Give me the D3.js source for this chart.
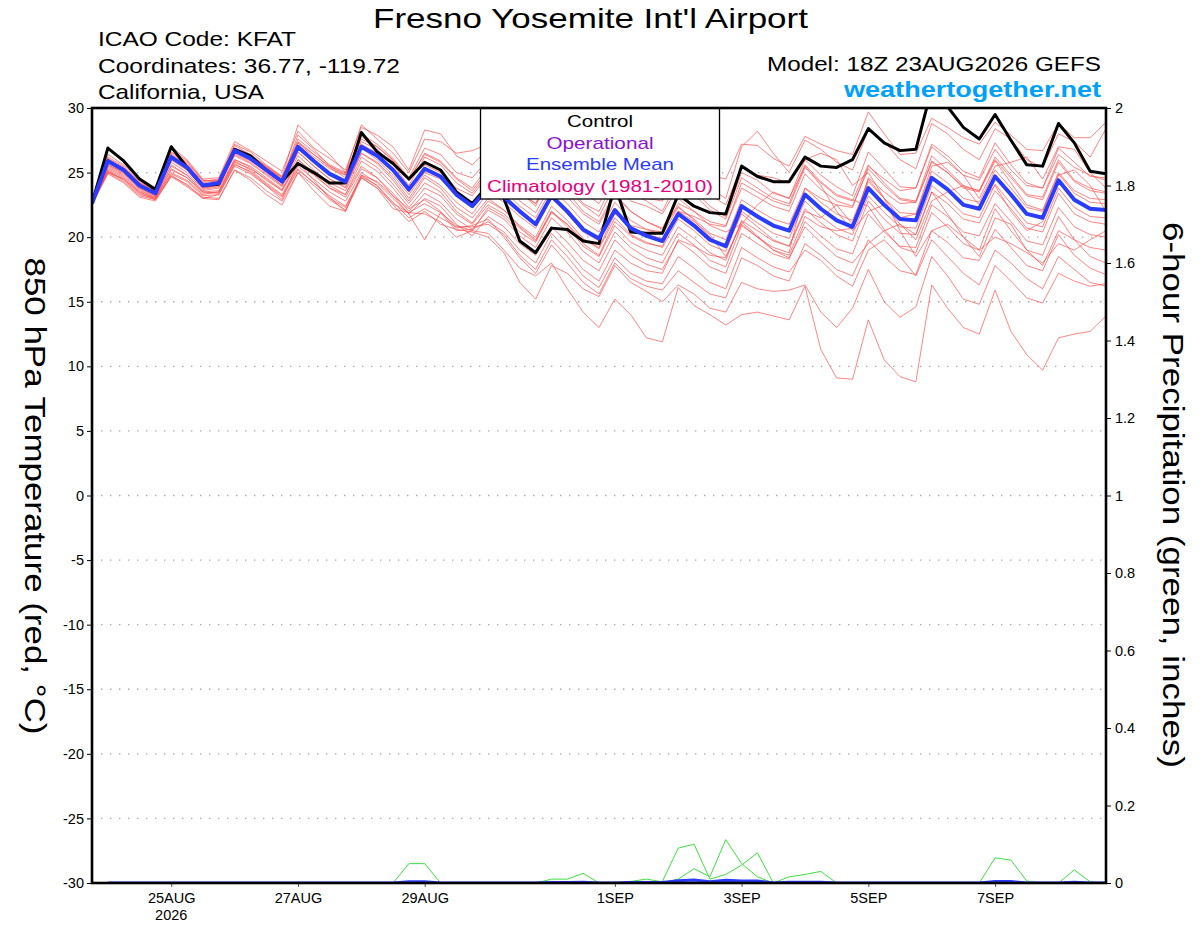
<!DOCTYPE html>
<html>
<head>
<meta charset="utf-8">
<script src="https://cdn.jsdelivr.net/npm/d3@7"></script>
<style>
  body { margin: 0; background: #fff; }
  svg { display: block; font-family: "Liberation Sans", Arial, Helvetica, sans-serif; }
</style>
</head>
<body>
<script>
// GEFS 850 hPa temperature plume, 6-hourly from 18Z 23AUG2026
var startUTC = Date.UTC(2026, 7, 23, 18),
    stepHours = 6;

var control = [22.6,26.9,25.9,24.5,23.7,27.0,25.4,24.0,24.1,26.8, 26.3,25.2,24.3,25.7,25.0,24.2,24.2,28.1,26.6,25.7,
  24.5,25.8,25.2,23.5,22.6,24.0,23.0,19.7,18.8,20.7, 20.6,19.7,19.5,24.0,20.4,20.3,20.3,23.3,22.4,21.9,
  21.8,25.5,24.7,24.3,24.3,26.2,25.5,25.4,26.0,28.4, 27.3,26.7,26.8,31.5,30.1,28.5,27.6,29.5,27.5,25.6,
  25.5,28.8,27.3,25.1,24.9];

var ensMean = [22.6,25.9,25.2,24.0,23.4,26.2,25.4,24.0,24.2,26.7, 26.1,25.2,24.3,27.0,25.9,24.9,24.3,27.0,26.3,25.2,
  23.7,25.3,24.7,23.3,22.4,23.8,23.1,22.0,21.0,23.2, 22.0,20.6,19.9,22.1,20.7,20.1,19.7,21.8,20.9,19.8,
  19.3,22.4,21.6,20.9,20.5,23.3,22.2,21.3,20.8,23.8, 22.5,21.4,21.3,24.6,23.7,22.5,22.2,24.7,23.3,21.8,
  21.5,24.4,22.9,22.2,22.1];

var m01 = [22.8,26.4,25.6,24.3,23.6,27.0,26.0,24.5,24.6,27.4, 26.7,25.9,25.1,28.2,26.9,26.1,25.2,28.5,27.9,27.0,
  25.2,28.3,28.0,26.3,25.6,26.8,26.6,25.8,25.0,26.7, 25.8,24.6,24.1,25.6,24.7,24.6,24.5,25.8,25.3,24.8,
  24.5,27.2,27.1,26.1,25.5,27.8,27.2,26.7,26.4,29.7, 28.0,26.4,26.5,29.2,28.5,27.7,27.2,28.9,27.9,26.8,
  26.7,28.8,27.7,27.7,28.9];
var m02 = [22.7,26.2,25.5,24.2,23.5,26.8,25.9,24.4,24.4,27.2, 26.6,25.6,24.7,28.7,27.5,26.4,25.0,28.7,27.6,26.5,
  25.0,27.6,27.4,26.5,26.7,27.2,26.0,24.5,23.4,26.2, 25.0,23.4,23.0,25.8,24.0,23.5,22.9,26.5,25.0,23.8,
  23.0,27.0,28.2,26.5,25.0,27.5,26.8,25.8,25.2,28.3, 27.4,26.0,25.3,28.8,28.0,26.8,26.0,28.4,27.6,26.0,
  25.4,28.0,27.4,26.2,28.4];
var m03 = [22.6,26.1,25.4,24.1,23.3,26.5,25.7,24.3,24.5,27.1, 26.4,25.4,24.5,27.9,26.8,25.5,24.8,28.0,27.2,26.1,
  24.6,26.9,26.4,25.0,24.6,26.0,25.5,24.3,23.7,25.5, 24.6,23.5,22.6,24.8,23.6,23.0,22.8,25.0,24.5,23.3,
  22.5,25.4,24.8,24.6,24.2,26.0,26.5,26.0,24.0,25.0, 23.0,21.5,21.8,25.5,25.8,24.8,23.0,25.5,25.8,26.2,
  24.5,27.0,26.8,25.0,23.8];
var m04 = [22.7,25.8,25.3,24.2,23.6,26.6,25.8,24.4,24.3,26.9, 26.4,25.5,24.6,27.6,26.6,25.6,25.0,27.8,27.0,25.9,
  24.4,26.5,25.9,24.6,23.8,25.5,24.9,23.5,22.4,25.0, 24.1,22.6,22.0,24.5,23.4,22.8,22.0,24.5,23.6,22.4,
  21.6,25.0,24.4,23.4,23.0,26.0,24.8,23.9,23.2,26.6, 25.3,23.9,23.8,27.2,26.3,25.1,24.6,27.3,25.6,24.2,
  23.8,26.9,25.8,24.7,24.6];
var m05 = [22.5,25.6,25.0,23.8,23.2,26.0,25.2,23.8,24.0,26.5, 25.9,25.1,24.4,27.3,26.4,25.4,24.6,27.4,26.8,25.6,
  24.0,26.2,25.6,24.2,23.4,25.0,24.6,23.4,22.6,24.8, 23.7,22.5,21.6,24.0,22.8,22.4,21.8,23.9,23.3,22.1,
  21.4,24.6,23.8,23.0,22.6,25.6,24.3,23.3,22.9,22.4, 20.6,19.2,18.8,21.9,20.8,19.5,19.0,22.2,20.5,19.0,
  18.6,21.6,19.8,19.2,19.0];
var m06 = [22.8,26.0,25.3,24.0,23.4,26.4,25.6,24.1,24.0,26.6, 26.0,25.0,24.0,26.6,25.5,24.5,23.8,26.5,25.7,24.4,
  22.8,24.6,23.8,22.3,21.5,23.0,22.1,20.8,19.8,22.0, 21.0,19.5,18.6,21.2,20.1,19.5,19.3,22.0,21.6,21.0,
  20.8,24.2,23.5,22.8,22.4,25.4,24.2,23.2,22.8,25.6, 24.2,23.0,22.8,26.3,25.2,24.0,23.6,26.2,24.8,23.3,
  23.1,26.0,24.4,23.8,23.5];
var m07 = [22.6,25.7,25.1,24.0,23.5,26.3,25.5,24.2,24.4,26.9, 26.3,25.5,24.7,27.3,26.2,25.3,24.8,27.2,26.5,25.2,
  23.5,25.6,25.0,23.8,23.2,24.8,24.0,22.8,21.9,24.1, 23.1,21.8,21.0,23.2,22.0,21.2,20.7,23.0,22.0,20.9,
  20.4,21.0,22.5,23.5,23.0,25.5,24.0,22.0,20.5,22.0, 22.5,21.0,19.8,22.8,23.5,24.0,22.5,24.0,22.0,20.5,
  21.2,24.8,25.2,24.0,22.0];
var m08 = [22.5,25.4,24.8,23.7,23.1,25.6,24.8,23.5,23.6,26.0, 25.4,24.4,23.6,26.0,24.9,23.8,23.3,25.5,24.6,23.2,
  21.8,19.8,21.9,20.9,20.5,22.3,21.6,20.4,19.6,21.9, 21.0,19.8,19.2,21.8,20.9,20.6,20.4,22.6,22.0,21.2,
  20.9,23.8,23.1,22.4,22.0,24.9,23.7,22.8,22.4,25.3, 24.0,22.9,22.7,25.9,25.0,23.9,23.6,26.0,24.6,23.2,
  22.9,25.8,24.3,23.6,23.4];
var m09 = [22.7,26.0,25.3,24.1,23.5,26.2,25.3,23.9,24.1,26.7, 26.0,25.1,24.2,26.8,25.8,24.9,24.4,26.9,26.0,24.8,
  23.3,25.0,24.5,23.2,22.5,24.3,23.6,22.4,21.5,23.7, 22.6,21.2,20.4,22.7,21.3,20.6,20.2,22.3,21.4,20.3,
  19.8,22.9,22.1,21.4,21.0,23.8,22.7,21.8,21.3,24.3, 23.0,21.9,21.8,25.1,24.2,23.0,22.7,25.2,23.8,22.3,
  22.0,24.9,23.4,22.7,22.6];
var m10 = [22.6,25.9,25.2,24.0,23.4,26.1,25.4,24.0,24.3,26.8, 26.2,25.4,24.6,27.4,26.4,25.5,24.9,27.6,27.0,26.0,
  24.5,26.4,25.8,24.5,23.6,25.2,24.6,23.5,22.6,24.8, 23.5,22.0,21.2,23.4,22.0,21.2,20.6,22.4,21.3,20.0,
  19.2,21.8,20.8,19.8,19.3,22.0,21.5,22.5,21.0,24.5, 23.0,20.5,18.5,20.5,21.0,20.0,18.5,21.5,21.0,19.0,
  17.8,20.5,19.8,18.5,18.0];
var m11 = [22.5,25.8,25.1,23.9,23.3,26.0,25.2,23.8,24.0,26.4, 25.8,24.9,24.0,26.6,25.5,24.5,23.9,26.5,25.8,24.6,
  23.0,24.8,24.0,22.7,21.8,23.5,22.7,21.6,20.7,23.0, 21.8,20.4,19.7,22.0,20.7,20.2,19.9,22.0,21.2,20.2,
  18.5,21.0,20.0,19.0,18.6,21.6,20.8,20.5,20.7,24.6, 23.5,22.6,22.7,25.8,25.0,23.8,23.5,25.9,24.2,22.5,
  22.1,25.0,23.6,23.0,22.9];
var m12 = [22.6,25.6,25.0,23.9,23.4,25.8,25.0,23.7,23.9,26.3, 25.7,24.8,23.9,26.3,25.2,24.2,23.6,26.2,25.4,24.1,
  22.6,24.2,23.5,22.0,21.1,22.8,22.1,20.9,20.0,22.4, 21.3,19.9,19.1,21.5,20.2,19.6,19.2,21.4,20.5,19.4,
  18.9,22.0,21.1,20.3,19.9,22.8,21.6,20.7,20.2,23.2, 21.9,20.8,20.7,24.0,23.0,21.8,21.5,24.1,22.6,21.1,
  20.8,23.8,22.3,21.6,21.5];
var m13 = [22.7,25.5,24.9,23.8,23.2,25.5,24.8,23.6,23.8,26.0, 25.5,24.6,23.7,26.0,25.0,24.0,23.3,25.9,25.1,23.8,
  22.3,23.8,23.2,21.8,21.0,22.5,21.8,20.7,19.7,22.0, 20.8,19.3,18.5,20.9,19.6,19.0,18.6,20.8,19.9,18.8,
  18.2,21.3,20.5,19.7,19.3,22.2,21.1,20.2,19.7,22.8, 21.4,20.3,20.2,23.5,22.6,21.4,21.1,23.6,22.2,20.7,
  20.4,23.4,21.8,21.2,21.0];
var m14 = [22.6,25.3,24.7,23.6,23.1,25.2,24.6,23.4,23.5,25.8, 25.3,24.5,23.6,25.7,24.8,23.8,23.1,25.3,24.6,23.4,
  22.0,23.4,22.7,21.4,20.6,22.1,21.4,20.1,19.2,21.5, 20.4,18.9,18.0,20.4,19.2,18.4,18.0,20.3,19.4,18.2,
  17.7,20.9,20.0,19.2,18.8,23.8,23.0,22.5,22.3,25.5, 24.5,23.6,23.8,27.0,26.0,24.8,24.4,26.8,25.2,24.0,
  23.8,26.4,25.4,24.8,24.4];
var m15 = [22.5,25.2,24.6,23.5,23.0,25.0,24.4,23.3,23.5,25.9, 25.2,24.2,23.3,25.5,24.5,23.5,22.8,25.0,24.2,23.0,
  21.8,23.0,22.4,21.0,20.1,21.6,20.8,19.5,18.6,20.8, 19.6,18.2,17.4,19.8,18.6,17.9,17.5,19.7,18.8,17.7,
  17.2,20.3,19.5,18.7,18.3,21.2,20.1,19.1,18.7,21.8, 20.4,19.3,19.2,22.5,21.6,20.4,20.1,22.6,21.2,19.7,
  19.4,22.3,20.8,20.2,20.0];
var m16 = [22.7,25.1,24.5,23.5,23.0,24.9,24.3,23.2,23.3,25.5, 24.9,24.0,23.1,25.2,24.2,23.2,22.4,24.6,23.8,22.6,
  21.9,22.6,21.9,20.5,20.6,21.2,20.4,19.0,18.0,20.3, 19.0,17.5,16.6,19.0,18.0,17.4,17.2,19.8,19.3,18.6,
  18.4,21.2,20.1,19.0,18.4,20.8,19.6,18.5,18.0,19.5, 20.5,21.0,20.2,23.5,21.8,20.0,19.0,20.0,19.5,18.8,
  18.0,19.5,19.0,19.8,20.5];
var m17 = [22.6,25.0,24.5,23.4,22.9,24.7,24.1,23.0,23.3,25.6, 25.1,24.1,23.2,25.3,24.2,23.1,22.0,24.8,24.0,22.7,
  21.5,22.2,21.5,20.8,20.8,21.0,20.2,18.6,17.5,19.8, 18.5,17.0,16.1,18.4,17.2,16.6,16.4,18.5,17.6,16.5,
  16.0,19.2,18.4,17.7,17.3,19.0,18.2,17.0,16.2,19.0, 19.8,18.5,17.0,19.8,18.5,17.2,16.3,19.0,18.0,16.8,
  16.0,18.5,17.5,16.5,16.2];
var m18 = [22.6,25.1,24.4,23.3,23.0,25.3,24.6,23.5,23.4,25.7, 25.0,24.0,22.9,25.8,24.4,23.0,22.3,24.8,24.3,23.2,
  22.2,22.9,22.0,20.7,20.9,21.4,20.0,18.4,17.2,19.4, 18.0,16.5,15.6,18.0,16.8,16.2,15.9,17.4,16.5,15.6,
  15.3,18.4,17.8,17.0,16.6,19.5,18.6,17.5,17.0,19.8, 18.5,17.4,17.1,20.5,19.6,18.4,18.2,20.6,19.2,17.8,
  17.4,20.2,18.6,17.6,17.1];
var m19 = [22.6,25.0,24.3,23.2,22.9,24.8,24.0,23.1,23.0,25.2, 24.6,23.6,22.8,25.0,24.0,22.9,22.1,24.7,24.0,22.5,
  21.2,22.0,21.0,20.6,20.4,20.0,18.8,16.5,15.2,17.8, 17.2,16.0,15.4,17.8,16.5,15.8,15.0,16.3,15.6,14.5,
  14.2,16.5,16.0,15.8,15.9,16.3,14.2,13.0,14.5,17.5, 15.0,13.8,14.6,18.5,17.0,15.2,14.8,17.8,16.6,15.3,
  14.9,17.2,16.6,16.2,16.4];
var m20 = [22.5,24.9,24.2,23.1,22.8,24.7,23.9,23.0,22.9,25.2, 24.4,23.3,22.5,25.0,23.6,22.4,22.0,24.6,23.8,22.2,
  21.9,21.8,21.2,20.0,20.5,20.3,19.0,17.6,17.0,18.0, 16.0,14.2,13.0,15.2,14.0,12.2,11.9,16.1,14.7,14.0,
  13.2,14.0,14.2,13.9,13.6,16.2,11.3,9.1,9.0,13.6, 10.5,9.2,8.8,16.3,14.5,13.0,12.5,15.9,12.7,10.9,
  9.7,12.2,12.5,12.7,13.9];

var members = [m01, m02, m03, m04, m05, m06, m07, m08, m09, m10,
               m11, m12, m13, m14, m15, m16, m17, m18, m19, m20];

// 6-hour precipitation (inches), one value per period ending at steps 1..64
var precipA = [0,0,0,0,0,0,0,0,0,0, 0,0,0,0,0,0,0,0,0,0.05, 0.05,0,0,0,0,0,0,0,0,0,
  0,0,0,0,0,0,0,0,0,0, 0,0,0,0,0,0,0,0,0,0, 0,0,0,0,0,0,0,0,0,0, 0,0,0,0];
var precipB = [0,0,0,0,0,0,0,0,0,0, 0,0,0,0,0,0,0,0,0,0, 0,0,0,0,0,0,0,0,0.01,0.01,
  0.025,0,0,0,0,0,0,0,0,0, 0,0,0,0,0,0,0,0,0,0, 0,0,0,0,0,0,0,0,0,0, 0,0,0,0];
var precipC = [0,0,0,0,0,0,0,0,0,0, 0,0,0,0,0,0,0,0,0,0, 0,0,0,0,0,0,0,0,0,0,
  0,0,0,0,0,0.004,0.09,0.10,0.01,0.022, 0.046,0.078,0,0,0,0,0,0,0,0, 0,0,0,0,0,0,0,0,0,0, 0,0,0,0];
var precipD = [0,0,0,0,0,0,0,0,0,0, 0,0,0,0,0,0,0,0,0,0, 0,0,0,0,0,0,0,0,0,0,
  0,0,0,0,0,0,0.01,0.037,0.016,0.112, 0.05,0.016,0,0.016,0.022,0.030,0,0,0,0, 0,0,0,0,0,0,0,0,0,0, 0,0,0,0];
var precipE = [0,0,0,0,0,0,0,0,0,0, 0,0,0,0,0,0,0,0,0,0, 0,0,0,0,0,0,0,0,0,0,
  0,0,0,0,0,0,0,0,0,0, 0,0,0,0,0,0,0,0,0,0, 0,0,0,0,0,0,0.065,0.059,0.005,0, 0,0,0,0];
var precipF = [0,0,0,0,0,0,0,0,0,0, 0,0,0,0,0,0,0,0,0,0, 0,0,0,0,0,0,0,0,0,0,
  0,0,0,0.004,0.01,0.003,0,0,0,0, 0,0,0,0,0,0,0,0,0,0, 0,0,0,0,0,0,0,0,0,0, 0,0.034,0.003,0];
var precipMembers = [precipA, precipB, precipC, precipD, precipE, precipF];
var precipMean = [0,0,0,0,0,0,0,0,0,0, 0,0,0,0,0,0,0,0,0,0.003, 0.003,0,0,0,0,0,0,0,0.001,0.001,
  0.002,0,0,0.001,0.001,0.001,0.006,0.008,0.003,0.007, 0.005,0.005,0,0.002,0.002,0.002,0,0,0,0,
  0,0,0,0,0,0,0.004,0.004,0,0, 0,0.002,0,0];

var tempTicks = [-30,-25,-20,-15,-10,-5,0,5,10,15,20,25,30];
var gridTemps = [-25,-20,-15,-10,-5,0,5,10,15,20,25];
var precipTicks = [0,0.2,0.4,0.6,0.8,1,1.2,1.4,1.6,1.8,2];
var precipTickLabels = ["0","0.2","0.4","0.6","0.8","1","1.2","1.4","1.6","1.8","2"];
var dateTicks = ["2026-08-25","2026-08-27","2026-08-29","2026-09-01","2026-09-03","2026-09-05","2026-09-07"];
var dateTickLabels = ["25AUG","27AUG","29AUG","1SEP","3SEP","5SEP","7SEP"];

var legendItems = [
  {text: "Control", color: "#000000", len: 66},
  {text: "Operational", color: "#8c10d8", len: 107},
  {text: "Ensemble Mean", color: "#2a3cff", len: 148},
  {text: "Climatology (1981-2010)", color: "#e6007e", len: 226}
];

var W = 1200, H = 927;
var plot = {left: 92, right: 1106, top: 108, bottom: 883};

var times = control.map(function(d, i) { return new Date(startUTC + i * stepHours * 3600e3); });

var x = d3.scaleUtc()
    .domain([times[0], times[times.length - 1]])
    .range([plot.left, plot.right]);

var yT = d3.scaleLinear()
    .domain([-30, 30])
    .range([plot.bottom, plot.top]);

var yP = d3.scaleLinear()
    .domain([0, 2])
    .range([plot.bottom, plot.top]);

var svg = d3.select("body").append("svg")
    .attr("width", W)
    .attr("height", H);

svg.append("defs").append("clipPath").attr("id", "plotclip")
  .append("rect")
    .attr("x", plot.left).attr("y", plot.top)
    .attr("width", plot.right - plot.left).attr("height", plot.bottom - plot.top);

// dotted grid
svg.append("g").selectAll("line").data(gridTemps).enter().append("line")
    .attr("x1", plot.left).attr("x2", plot.right)
    .attr("y1", function(d) { return yT(d); }).attr("y2", function(d) { return yT(d); })
    .attr("stroke", "#a8a8a8")
    .attr("stroke-width", 1.4)
    .attr("stroke-dasharray", "1.4,7.6");

var lines = svg.append("g").attr("clip-path", "url(#plotclip)");

var tLine = d3.line()
    .x(function(d, i) { return x(times[i]); })
    .y(function(d) { return yT(d); });

var pLine = d3.line()
    .x(function(d, i) { return x(times[i + 1]); })
    .y(function(d) { return yP(d); });

lines.selectAll("path.member").data(members).enter().append("path")
    .attr("class", "member")
    .attr("d", tLine)
    .attr("fill", "none")
    .attr("stroke", "#ff4a4a")
    .attr("stroke-opacity", 0.85)
    .attr("stroke-width", 0.8);

lines.selectAll("path.pmember").data(precipMembers).enter().append("path")
    .attr("class", "pmember")
    .attr("d", pLine)
    .attr("fill", "none")
    .attr("stroke", "#3ee03e")
    .attr("stroke-width", 1);

lines.append("path")
    .attr("d", pLine(precipMean))
    .attr("fill", "none")
    .attr("stroke", "#2a3cff")
    .attr("stroke-width", 3);

lines.append("path")
    .attr("d", tLine(control))
    .attr("fill", "none")
    .attr("stroke", "#000")
    .attr("stroke-width", 3)
    .attr("stroke-linejoin", "round");

lines.append("path")
    .attr("d", tLine(ensMean))
    .attr("fill", "none")
    .attr("stroke", "#2a3cff")
    .attr("stroke-width", 4)
    .attr("stroke-linejoin", "round");

// legend box
var legend = svg.append("g");
legend.append("rect")
    .attr("x", 480.5).attr("y", plot.top)
    .attr("width", 239).attr("height", 91)
    .attr("fill", "#fff")
    .attr("stroke", "#000")
    .attr("stroke-width", 1.3);
legend.selectAll("text").data(legendItems).enter().append("text")
    .attr("x", 600)
    .attr("y", function(d, i) { return 127 + i * 21.6; })
    .attr("text-anchor", "middle")
    .attr("font-size", 17)
    .attr("textLength", function(d) { return d.len; })
    .attr("lengthAdjust", "spacingAndGlyphs")
    .attr("fill", function(d) { return d.color; })
    .text(function(d) { return d.text; });

// axes
var yAxis = d3.axisLeft(yT).tickValues(tempTicks).tickSize(5).tickPadding(3)
    .tickFormat(function(d) { return String(d); });
var gy = svg.append("g").attr("transform", "translate(" + plot.left + ",0)").call(yAxis);

var pAxis = d3.axisRight(yP).tickValues(precipTicks).tickSize(5).tickPadding(4)
    .tickFormat(function(d, i) { return precipTickLabels[i]; });
var gp = svg.append("g").attr("transform", "translate(" + plot.right + ",0)").call(pAxis);

var xAxis = d3.axisBottom(x)
    .tickValues(dateTicks.map(function(s) { return new Date(s + "T00:00:00Z"); }))
    .tickSize(4).tickPadding(6)
    .tickFormat(function(d, i) { return dateTickLabels[i]; });
var gx = svg.append("g").attr("transform", "translate(0," + plot.bottom + ")").call(xAxis);

[gy, gp, gx].forEach(function(g) {
  g.select(".domain").remove();
  g.selectAll("text").attr("font-size", 14.5).attr("fill", "#000")
    .attr("font-family", '"Liberation Sans", Arial, sans-serif');
  g.selectAll(".tick line").attr("stroke", "#000").attr("stroke-width", 1);
});
gx.selectAll(".tick line").attr("stroke", "#555");

gx.append("text")
    .attr("x", x(new Date(dateTicks[0] + "T00:00:00Z")))
    .attr("y", 37)
    .attr("text-anchor", "middle")
    .attr("font-size", 14.5)
    .attr("fill", "#000")
    .text("2026");

// frame
svg.append("rect")
    .attr("x", plot.left).attr("y", plot.top)
    .attr("width", plot.right - plot.left).attr("height", plot.bottom - plot.top)
    .attr("fill", "none")
    .attr("stroke", "#000")
    .attr("stroke-width", 2.6);

// axis titles
svg.append("text")
    .attr("transform", "translate(35,496) rotate(90)")
    .attr("text-anchor", "middle")
    .attr("dominant-baseline", "central")
    .attr("font-size", 30)
    .attr("textLength", 477)
    .attr("lengthAdjust", "spacingAndGlyphs")
    .text("850 hPa Temperature (red, \u00B0C)");

svg.append("text")
    .attr("transform", "translate(1173,495) rotate(90)")
    .attr("text-anchor", "middle")
    .attr("dominant-baseline", "central")
    .attr("font-size", 29)
    .attr("textLength", 546)
    .attr("lengthAdjust", "spacingAndGlyphs")
    .text("6-hour Precipitation (green, inches)");

// header
svg.append("text")
    .attr("x", 590.5).attr("y", 28)
    .attr("text-anchor", "middle")
    .attr("font-size", 28)
    .attr("textLength", 435)
    .attr("lengthAdjust", "spacingAndGlyphs")
    .text("Fresno Yosemite Int'l Airport");

var info = [
  {text: "ICAO Code: KFAT", len: 198},
  {text: "Coordinates: 36.77, -119.72", len: 302},
  {text: "California, USA", len: 166}
];
svg.append("g").selectAll("text").data(info).enter().append("text")
    .attr("x", 98)
    .attr("y", function(d, i) { return 46 + i * 26.6; })
    .attr("font-size", 21)
    .attr("textLength", function(d) { return d.len; })
    .attr("lengthAdjust", "spacingAndGlyphs")
    .text(function(d) { return d.text; });

svg.append("text")
    .attr("x", 1101).attr("y", 70.5)
    .attr("text-anchor", "end")
    .attr("font-size", 21)
    .attr("textLength", 334)
    .attr("lengthAdjust", "spacingAndGlyphs")
    .text("Model: 18Z 23AUG2026 GEFS");

svg.append("text")
    .attr("x", 1101).attr("y", 96.5)
    .attr("text-anchor", "end")
    .attr("font-size", 22)
    .attr("font-weight", "bold")
    .attr("fill", "#00a0ff")
    .attr("textLength", 257)
    .attr("lengthAdjust", "spacingAndGlyphs")
    .text("weathertogether.net");
</script>
</body>
</html>
